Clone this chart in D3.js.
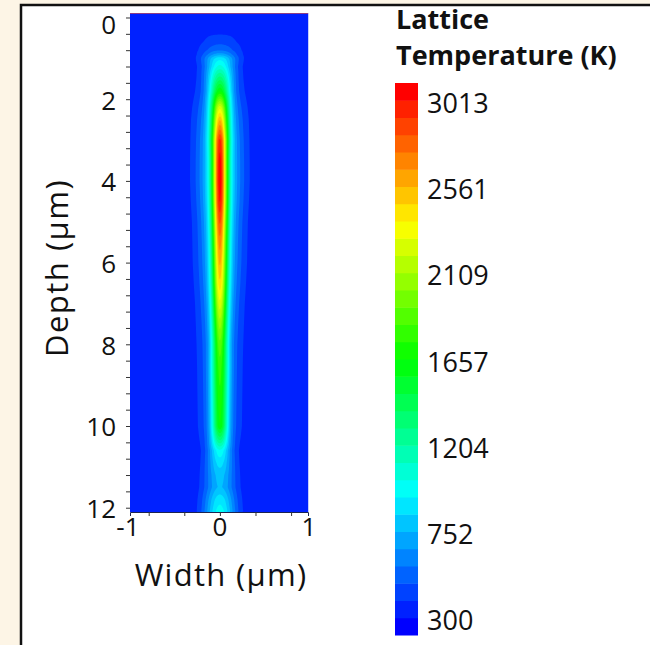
<!DOCTYPE html>
<html lang="en">
<head>
  <meta charset="UTF-8">
  <title>Lattice Temperature</title>
  <script src="https://d3js.org/d3.v7.min.js"></script>
  <style>
    body { margin: 0; background: #fdf5e6; }
    text { font-family: "Open Sans", sans-serif; fill: #111; }
    .tick line { stroke: #333; }
  </style>
</head>
<body>
  <svg id="chart" width="650" height="645"></svg>

  <script>
    // centre-line values, by depth (um)
    const depthSamples = [0, 0.3, 0.45, 0.6, 0.8, 0.9, 1.0, 1.2, 1.5, 1.8, 2.2, 2.5, 3.0, 3.5, 4.0, 4.5, 5.0, 5.5, 6.0, 6.5, 7.0, 7.5, 8.0, 8.5, 9.0, 9.5, 10.0, 10.3, 10.6, 10.9, 11.2, 11.5, 11.8, 12.1];
    const centerTemp   = [300, 320, 410, 450, 560, 700, 900, 1050, 1350, 1650, 2250, 2550, 2950, 3060, 3080, 3020, 2850, 2700, 2580, 2450, 2260, 2060, 1900, 1800, 1750, 1700, 1650, 1350, 1000, 880, 790, 760, 900, 980];
    // plume core and halo widths (um)
    const coreSigma    = [0.27, 0.27, 0.27, 0.26, 0.23, 0.20, 0.18, 0.15, 0.13, 0.115, 0.10, 0.095, 0.09, 0.085, 0.085, 0.085, 0.085, 0.085, 0.085, 0.085, 0.085, 0.085, 0.085, 0.09, 0.09, 0.09, 0.09, 0.10, 0.12, 0.14, 0.16, 0.17, 0.17, 0.17];
    const haloSigma    = [0.27, 0.27, 0.27, 0.27, 0.26, 0.25, 0.245, 0.24, 0.24, 0.24, 0.24, 0.24, 0.235, 0.235, 0.235, 0.23, 0.225, 0.225, 0.225, 0.22, 0.215, 0.215, 0.215, 0.215, 0.215, 0.215, 0.215, 0.22, 0.22, 0.22, 0.22, 0.22, 0.22, 0.22];
    const haloShare = 0.25;

    const yTicks = [0, 2, 4, 6, 8, 10, 12];
    const xTicks = [-1, 0, 1];
    const legendTicks = [300, 752, 1204, 1657, 2109, 2561, 3013];
    const legendTitle = ["Lattice", "Temperature (K)"];
    const colorStops = ["#0000ff", "#00ffff", "#00ff00", "#ffff00", "#ff0000"];
    const nLevels = 32;
    const ambient = 300;

    const svg = d3.select("#chart");

    // white panel with a frame
    svg.append("rect")
      .attr("x", 21).attr("y", 5)
      .attr("width", 700).attr("height", 700)
      .attr("fill", "#fff")
      .attr("stroke", "#111")
      .attr("stroke-width", 2.5);

    const plot = { left: 130, right: 308, top: 13, bottom: 512 };
    const x = d3.scaleLinear().domain([-1.01, 0.99]).range([plot.left, plot.right]);
    const y = d3.scaleLinear().domain([-0.11, 12.105]).range([plot.top, plot.bottom]);

    // discrete levels of the colour bar
    const step = (legendTicks[legendTicks.length - 1] - legendTicks[0]) / 30;
    const levelMin = legendTicks[0] - step;
    const ramp = d3.scaleLinear().domain([0, 0.25, 0.5, 0.75, 1]).range(colorStops);
    const levelColor = i => ramp(i / (nLevels - 1));

    // temperature field on a grid
    const tcAt = d3.scaleLinear().domain(depthSamples).range(centerTemp).clamp(true);
    const s1At = d3.scaleLinear().domain(depthSamples).range(coreSigma).clamp(true);
    const s2At = d3.scaleLinear().domain(depthSamples).range(haloSigma).clamp(true);

    const nx = 240, ny = 330;
    const values = new Float64Array(nx * ny);
    for (let j = 0; j < ny; j++) {
      const d = y.invert(plot.top + (j + 0.5) * (plot.bottom - plot.top) / ny);
      const tc = tcAt(d), s1 = s1At(d), s2 = s2At(d);
      for (let i = 0; i < nx; i++) {
        const w = x.invert(plot.left + (i + 0.5) * (plot.right - plot.left) / nx);
        const f = (1 - haloShare) * Math.exp(-((w / s1) ** 2)) + haloShare * Math.exp(-((w / s2) ** 2));
        values[j * nx + i] = ambient + (tc - ambient) * f;
      }
    }

    const thresholds = d3.range(2, nLevels).map(i => levelMin + i * step);
    const contours = d3.contours().size([nx, ny]).thresholds(thresholds)(values);

    const sx = (plot.right - plot.left) / nx, sy = (plot.bottom - plot.top) / ny;
    const path = d3.geoPath(d3.geoTransform({
      point(px, py) { this.stream.point(plot.left + px * sx, plot.top + py * sy); }
    }));

    svg.append("clipPath").attr("id", "plot-clip")
      .append("rect")
      .attr("x", plot.left).attr("y", plot.top)
      .attr("width", plot.right - plot.left).attr("height", plot.bottom - plot.top);

    const field = svg.append("g").attr("clip-path", "url(#plot-clip)");
    field.append("rect")
      .attr("x", plot.left).attr("y", plot.top)
      .attr("width", plot.right - plot.left).attr("height", plot.bottom - plot.top)
      .attr("fill", levelColor(1));

    field.selectAll("path")
      .data(contours)
      .enter().append("path")
      .attr("d", path)
      .attr("fill", (c, k) => levelColor(k + 2));

    // surface line and right edge
    svg.append("line")
      .attr("x1", plot.left).attr("x2", plot.right)
      .attr("y1", plot.top + 0.5).attr("y2", plot.top + 0.5)
      .attr("stroke", "#8c3c86").attr("stroke-width", 1.2);
    svg.append("line")
      .attr("x1", plot.right + 0.5).attr("x2", plot.right + 0.5)
      .attr("y1", plot.top).attr("y2", plot.bottom)
      .attr("stroke", "#c4cbff").attr("stroke-width", 1);

    // y axis: minor ticks every 0.4 um, labels every 2 um
    svg.append("g")
      .attr("transform", `translate(${plot.left},0)`)
      .call(d3.axisLeft(y).tickValues(d3.range(0, 12.01, 0.4)).tickSize(4).tickFormat(""))
      .call(g => g.select(".domain").remove());

    svg.append("g")
      .selectAll("text")
      .data(yTicks)
      .enter().append("text")
      .attr("x", 116)
      .attr("y", d => y(d) + (d === 0 ? 7 : 1))
      .attr("dy", "0.36em")
      .attr("text-anchor", "end")
      .style("font-size", "26px")
      .text(d => d);

    // x axis
    svg.append("g")
      .attr("transform", `translate(0,${plot.bottom})`)
      .call(d3.axisBottom(x).tickValues([-0.8, -0.4, 0, 0.4, 0.8]).tickSize(4).tickFormat(""))
      .call(g => g.select(".domain").attr("stroke", "#1c2350").attr("stroke-width", 1));

    svg.append("g")
      .selectAll("text")
      .data(xTicks)
      .enter().append("text")
      .attr("x", d => x(d) + (d < 0 ? -3 : 0))
      .attr("y", 536)
      .attr("text-anchor", "middle")
      .style("font-size", "26px")
      .text(d => d);

    svg.append("text")
      .attr("x", 221).attr("y", 586)
      .attr("text-anchor", "middle")
      .style("font-size", "31px")
      .style("letter-spacing", "1.3px")
      .text("Width (\u00b5m)");

    svg.append("text")
      .attr("transform", "translate(68,268) rotate(-90)")
      .attr("text-anchor", "middle")
      .style("font-size", "31px")
      .style("letter-spacing", "1.5px")
      .text("Depth (\u00b5m)");

    // colour bar
    const bar = { left: 395, width: 23, top: 83, bottom: 635 };
    const legendY = d3.scaleLinear()
      .domain([levelMin, levelMin + nLevels * step])
      .range([bar.bottom, bar.top]);

    svg.append("g")
      .selectAll("rect")
      .data(d3.range(nLevels))
      .enter().append("rect")
      .attr("x", bar.left)
      .attr("y", i => legendY(levelMin + (i + 1) * step))
      .attr("width", bar.width)
      .attr("height", i => legendY(levelMin + i * step) - legendY(levelMin + (i + 1) * step) + 0.5)
      .attr("fill", i => levelColor(i));

    svg.append("g")
      .selectAll("text")
      .data(legendTicks)
      .enter().append("text")
      .attr("x", 427)
      .attr("y", d => legendY(d) + 3)
      .attr("dy", "0.36em")
      .style("font-size", "27px")
      .text(d => d);

    svg.append("g")
      .selectAll("text")
      .data(legendTitle)
      .enter().append("text")
      .attr("x", 396)
      .attr("y", (d, i) => 29 + i * 36)
      .style("font-size", "27px")
      .style("font-weight", "bold")
      .text(d => d);
  </script>
</body>
</html>
